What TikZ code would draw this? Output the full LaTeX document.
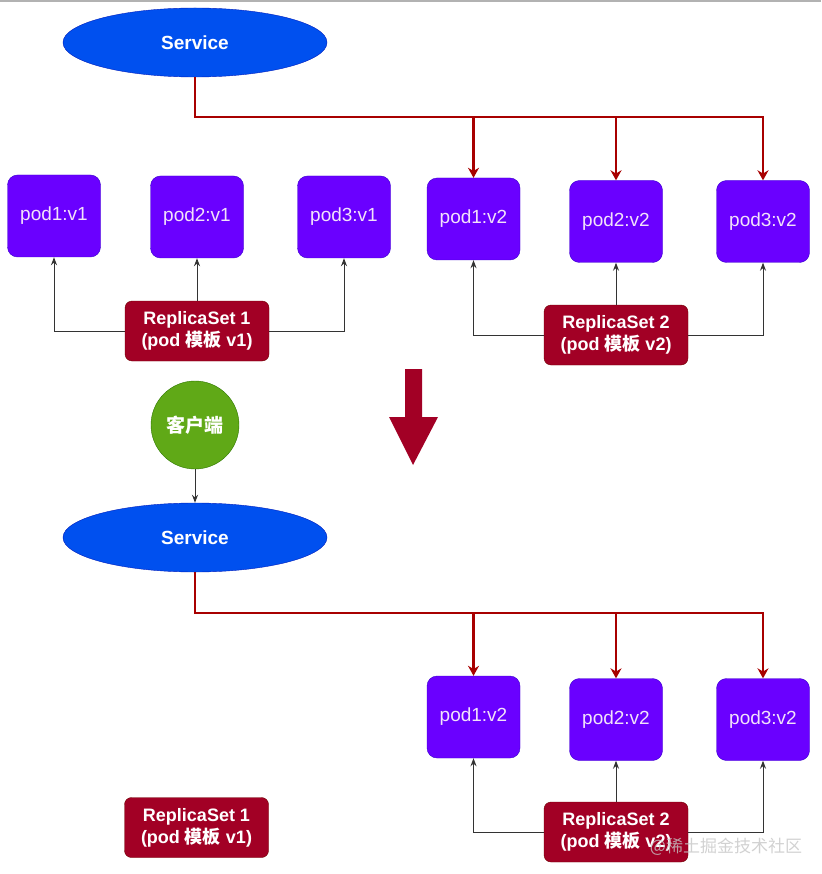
\documentclass[tikz,border=0pt]{standalone}
\usepackage{fontspec}
\setmainfont{Liberation Sans}
\newfontfamily\cjk{Noto Sans CJK SC}
\usetikzlibrary{positioning,arrows.meta,shapes.geometric}
\definecolor{podfill}{HTML}{6A00FF}
\definecolor{podline}{HTML}{3700CC}
\definecolor{podtext}{HTML}{F2E2FA}
\definecolor{rsfill}{HTML}{A20025}
\definecolor{rsline}{HTML}{6F0000}
\definecolor{svcfill}{HTML}{0050EF}
\definecolor{svcline}{HTML}{001DBC}
\definecolor{cltfill}{HTML}{60A917}
\definecolor{cltline}{HTML}{2D7600}
\definecolor{busred}{HTML}{A80000}

\begin{document}
\begin{tikzpicture}[x=1pt,y=-1pt,
  pod/.style={draw=podline,fill=podfill,rounded corners=10pt,minimum width=93pt,minimum height=82pt,text=podtext,font=\fontsize{19}{22}\selectfont},
  rset/.style={draw=rsline,fill=rsfill,rounded corners=7pt,minimum width=144pt,minimum height=60pt,text=white,align=center,inner sep=2pt,font=\fontsize{18}{22}\selectfont\bfseries},
  svc/.style={ellipse,draw=svcline,fill=svcfill,minimum width=264pt,minimum height=69pt,text=white,font=\fontsize{19}{22}\selectfont\bfseries},
  busln/.style={draw=busred,line width=2.2pt,-{Stealth[length=10pt,width=11pt]}},
  ctrl/.style={draw=black!80,line width=1pt,-{Stealth[length=8pt,width=6pt]}}]
\useasboundingbox (0,0) rectangle (821,874);
\draw[gray!60,line width=2pt] (0,1) -- (821,1);

% before the update
\node[svc] (svcA) at (195,42.5) {Service};
\node[pod] (p1) at (54,216) {pod1:v1};
\node[pod] (p2) at (197,217) {pod2:v1};
\node[pod] (p3) at (344,217) {pod3:v1};
\node[pod] (q1) at (473.5,219) {pod1:v2};
\node[pod] (q2) at (616,221.5) {pod2:v2};
\node[pod] (q3) at (763,221.5) {pod3:v2};
\node[rset] (rs1) at (197,331) {ReplicaSet 1\\(pod {\cjk 模板} v1)};
\node[rset] (rs2) at (616,335) {ReplicaSet 2\\(pod {\cjk 模板} v2)};
\coordinate (busA) at (0,117);
\foreach \p in {q1,q2,q3}
  \draw[busln] (svcA.south) |- (busA -| \p.north) -- (\p.north);
\draw[ctrl] (rs1.north) -- (p2.south);
\draw[ctrl] (rs1.west) -| (p1.south);
\draw[ctrl] (rs1.east) -| (p3.south);
\draw[ctrl] (rs2.north) -- (q2.south);
\draw[ctrl] (rs2.west) -| (q1.south);
\draw[ctrl] (rs2.east) -| (q3.south);

% big arrow
\fill[rsfill] (405,369) -- (422,369) -- (422,417) -- (438,417) -- (413,465) -- (389,417) -- (405,417) -- cycle;

% after the update
\node[circle,draw=cltline,fill=cltfill,minimum size=88pt,text=white,font=\fontsize{19}{22}\selectfont\cjk\bfseries] (clt) at (195,425) {客户端};
\node[svc] (svcB) at (195,537.5) {Service};
\draw[ctrl] (clt.south) -- (svcB.north);
\node[pod] (r1) at (473.5,717) {pod1:v2};
\node[pod] (r2) at (616,719.5) {pod2:v2};
\node[pod] (r3) at (763,719.5) {pod3:v2};
\node[rset] (rs3) at (616,832) {ReplicaSet 2\\(pod {\cjk 模板} v2)};
\node[rset] (rs4) at (196.5,827.5) {ReplicaSet 1\\(pod {\cjk 模板} v1)};
\coordinate (busB) at (0,613);
\foreach \p in {r1,r2,r3}
  \draw[busln] (svcB.south) |- (busB -| \p.north) -- (\p.north);
\draw[ctrl] (rs3.north) -- (r2.south);
\draw[ctrl] (rs3.west) -| (r1.south);
\draw[ctrl] (rs3.east) -| (r3.south);

\node[text=gray!45,font=\fontsize{17}{20}\selectfont\cjk,opacity=0.8] (mark) at (726,847) {@稀土掘金技术社区};
\end{tikzpicture}
\end{document}
